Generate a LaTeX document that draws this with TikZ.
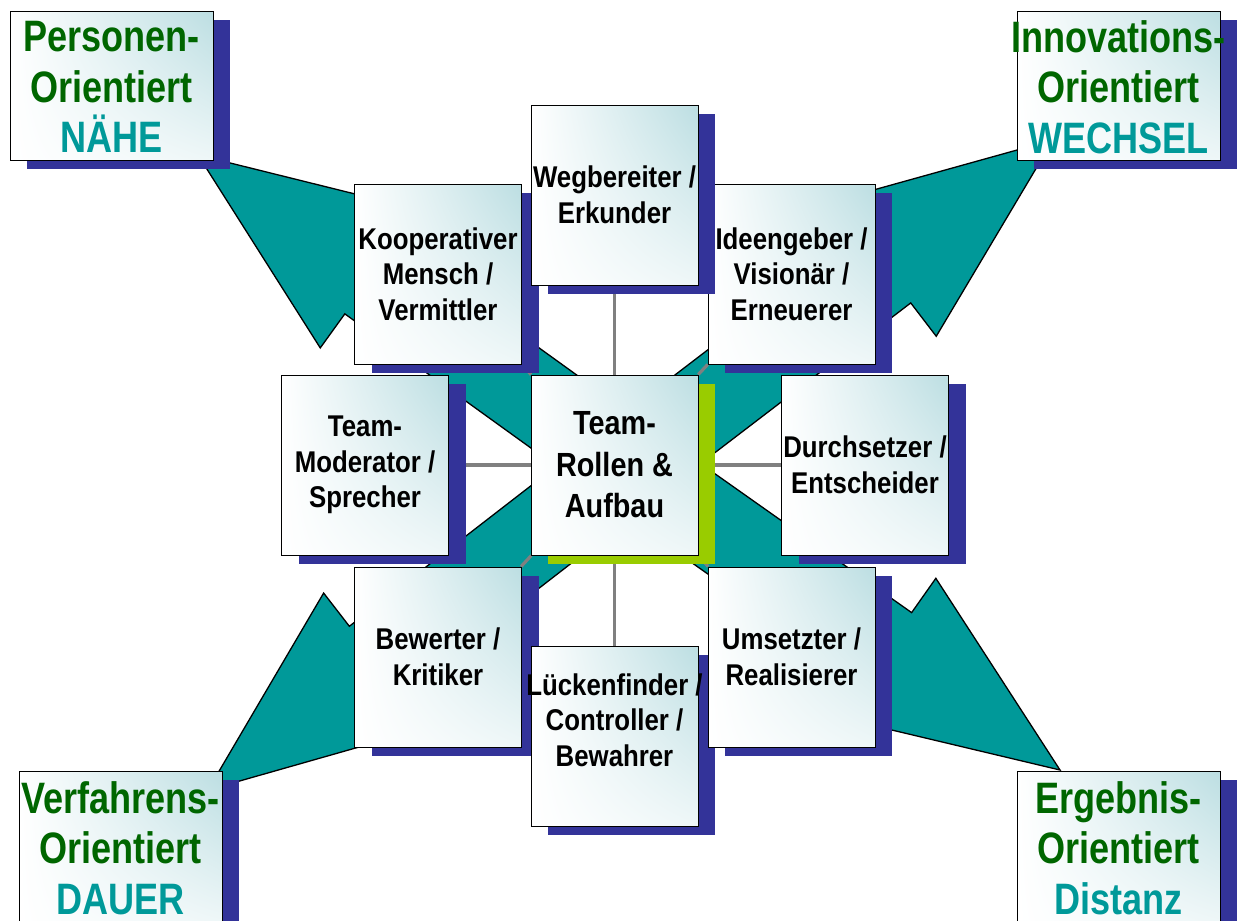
\documentclass[tikz,border=0pt]{standalone}
\usepackage{fontspec}
\newfontfamily\narrowfont[FakeStretch=0.86]{Liberation Sans}
\newfontfamily\cornerfont[FakeStretch=0.82]{Liberation Sans}
\usetikzlibrary{calc,shadows,shadings}
\definecolor{teal1}{HTML}{009999}
\definecolor{shblue}{HTML}{333399}
\definecolor{shgreen}{HTML}{99CC00}
\definecolor{dgreen}{HTML}{006600}
\definecolor{tint}{RGB}{188,222,226}
\definecolor{gline}{HTML}{808080}
\pgfdeclarelayer{bg}
\pgfdeclarelayer{mid}
\pgfsetlayers{bg,mid,main}
\tikzset{
  box/.style={draw=black, line width=0.9pt, rectangle, inner sep=0pt, align=center,
    upper left=white, upper right=tint, lower left=white, lower right=white!75!tint},
  blueshadow/.style={general shadow={fill=shblue, shadow xshift=17pt, shadow yshift=-8.5pt}},
  greenshadow/.style={general shadow={fill=shgreen, shadow xshift=17pt, shadow yshift=-9pt}},
  midfont/.style={font=\narrowfont\bfseries\fontsize{30}{35.5}\selectfont},
  midbox/.style={box, blueshadow, midfont, minimum width=167pt, minimum height=180pt},
  midtext/.style={midfont, align=center, inner sep=0pt},
  centerbox/.style={box, greenshadow, minimum width=167pt, minimum height=180pt,
    font=\narrowfont\bfseries\fontsize{33.5}{41.5}\selectfont},
  cornerbox/.style={box, blueshadow, minimum width=203pt, minimum height=149pt},
  cornertext/.style={inner sep=0pt, align=center, text=dgreen,
    font=\cornerfont\bfseries\fontsize{44}{50.5}\selectfont},
  arrowshape/.style={fill=teal1, draw=black, line width=1.3pt, line join=miter},
  conn/.style={draw=gline, line width=3.2pt}
}
\begin{document}
\begin{tikzpicture}[x=1pt,y=-1pt]
\useasboundingbox (0,0) rectangle (1245,921);

% arrow geometry
\coordinate (C) at (628,465);
\coordinate (aTL) at (198,155);
\coordinate (aTR) at (1053,140);
\coordinate (aBL) at (208,790);
\coordinate (aBR) at (1060,770);

% middle boxes (drawing order matters)
\node[midbox] (koop) at (438,274) {Kooperativer\\Mensch /\\Vermittler};
\node[midbox] (idee) at (791.5,274) {Ideengeber /\\Visionär /\\Erneuerer};
\node[midbox] (weg) at (614.5,195) {Wegbereiter /\\Erkunder};
\node[midbox] (mod) at (365,465) {Team-\\Moderator /\\Sprecher};
\node[centerbox] (ctr) at (614.5,465) {Team-\\Rollen \&\\Aufbau};
\node[midbox] (durch) at (865,465) {Durchsetzer /\\Entscheider};
\node[midbox] (bew) at (438,657) {Bewerter /\\Kritiker};
\node[midbox] (lueck) at (614.5,736) {};
\node[midtext] (lueckt) at (614.5,720) {Lückenfinder /\\Controller /\\Bewahrer};
\node[midbox] (ums) at (791.5,657) {Umsetzter /\\Realisierer};

% corner boxes
\node[cornerbox] (tl) at (111.5,85.5) {};
\node[cornertext] (tlt) at (111.5,87) {Personen-\\Orientiert\\\textcolor{teal1}{NÄHE}};
\node[cornerbox] (tr) at (1118.5,85.5) {};
\node[cornertext] (trt) at (1118.5,87) {Innovations-\\Orientiert\\\textcolor{teal1}{WECHSEL}};
\node[cornerbox, minimum height=150pt] (bl) at (120.5,846) {};
\node[cornertext] (blt) at (120.5,848) {Verfahrens-\\Orientiert\\\textcolor{teal1}{DAUER}};
\node[cornerbox, minimum height=150pt] (br) at (1118.5,846) {};
\node[cornertext] (brt) at (1118.5,848) {Ergebnis-\\Orientiert\\\textcolor{teal1}{Distanz}};

% teal arrows
\begin{pgfonlayer}{bg}
\foreach \a in {aTL,aTR,aBL,aBR}{
  \coordinate (P) at ($(\a)!212pt!(C)$);
  \path[arrowshape] (\a) -- ($(P)!85pt!90:(C)$) -- ($(P)!43pt!90:(C)$)
    -- ($(C)!43pt!-90:(P)$) -- ($(C)!43pt!90:(P)$)
    -- ($(P)!43pt!-90:(C)$) -- ($(P)!85pt!-90:(C)$) -- cycle;
}
\end{pgfonlayer}

% connectors
\begin{pgfonlayer}{mid}
\foreach \n in {weg,koop,idee,mod,durch,bew,ums,lueck}
  \draw[conn] (ctr) -- (\n);
\end{pgfonlayer}
\end{tikzpicture}
\end{document}
